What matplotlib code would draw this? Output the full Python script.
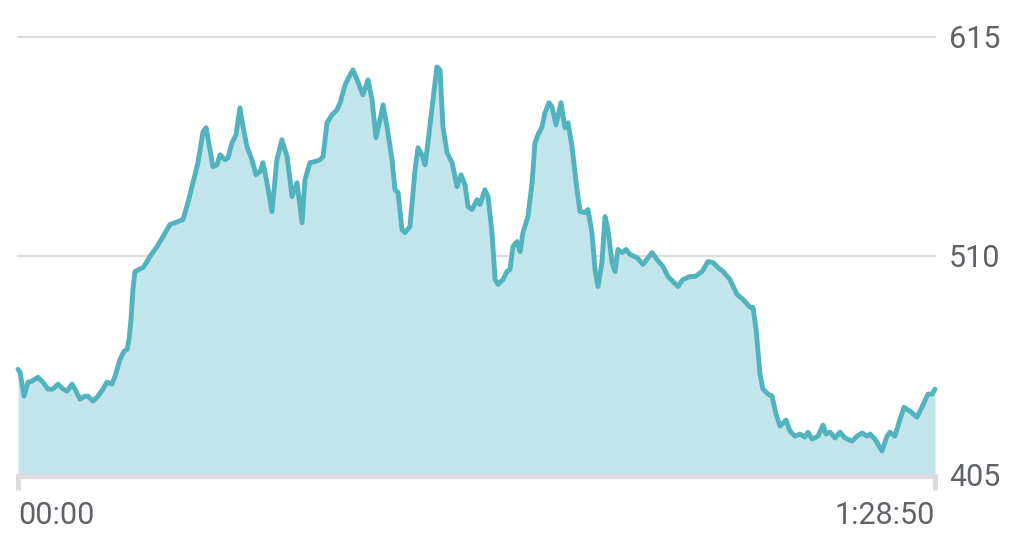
import matplotlib
matplotlib.use("Agg")
import matplotlib.pyplot as plt
import numpy as np

# elapsed time (seconds) and power-like value
time_s = [0, 12, 35, 58, 81, 116, 145, 174, 203, 232, 262, 285, 314, 331, 360, 389, 407, 436, 465, 494,
          517, 546, 564, 593, 616, 634, 645, 657, 668, 680, 703, 727, 750, 767, 808, 843, 883, 930, 959, 988,
          1017, 1046, 1075, 1093, 1104, 1133, 1157, 1174, 1203, 1221, 1244, 1267, 1290, 1308, 1331, 1360, 1383, 1407, 1424, 1447,
          1476, 1505, 1534, 1564, 1593, 1622, 1651, 1668, 1697, 1726, 1755, 1773, 1796, 1825, 1854, 1872, 1901, 1930, 1947, 1976,
          2005, 2034, 2058, 2081, 2104, 2122, 2145, 2174, 2191, 2209, 2232, 2249, 2278, 2308, 2325, 2348, 2366, 2383, 2412, 2435,
          2453, 2470, 2494, 2523, 2552, 2575, 2598, 2616, 2639, 2668, 2685, 2714, 2732, 2755, 2773, 2790, 2819, 2842, 2860, 2877,
          2900, 2918, 2935, 2964, 2988, 3005, 3022, 3046, 3063, 3086, 3104, 3127, 3156, 3179, 3197, 3220, 3249, 3267, 3296, 3313,
          3336, 3354, 3371, 3394, 3412, 3429, 3453, 3470, 3487, 3511, 3534, 3557, 3598, 3633, 3685, 3714, 3749, 3778, 3807, 3836,
          3865, 3906, 3935, 3976, 4011, 4040, 4069, 4098, 4138, 4179, 4214, 4255, 4272, 4290, 4313, 4330, 4359, 4383, 4406, 4429,
          4464, 4487, 4516, 4545, 4574, 4592, 4615, 4650, 4679, 4696, 4720, 4749, 4778, 4807, 4848, 4877, 4906, 4935, 4952, 4981,
          5022, 5051, 5068, 5097, 5127, 5150, 5185, 5225, 5254, 5289, 5313, 5330]
values = [455.3, 453.9, 442.4, 449.1, 449.6, 451.5, 449.1, 445.8, 445.8, 448.2, 445.8, 444.8, 448.2, 445.8, 441.0, 442.4, 442.4, 440.0, 442.4, 445.8,
          449.1, 448.2, 452.0, 460.1, 464.0, 464.9, 469.7, 479.3, 493.7, 502.3, 503.3, 504.2, 507.1, 509.5, 514.3, 519.1, 524.9, 526.3, 527.3, 535.4,
          545.0, 554.6, 569.4, 571.4, 566.6, 552.7, 553.6, 558.4, 556.0, 557.0, 564.2, 568.0, 581.0, 571.8, 562.3, 556.0, 548.8, 550.3, 554.6, 545.0,
          531.1, 556.0, 565.6, 557.5, 538.3, 545.0, 525.8, 546.4, 554.6, 555.1, 556.0, 557.5, 573.8, 577.6, 580.0, 583.4, 592.0, 596.8, 599.2, 593.4,
          587.2, 594.4, 584.8, 566.6, 575.2, 582.4, 571.8, 556.0, 541.6, 540.2, 522.5, 521.0, 523.9, 551.2, 561.8, 558.4, 553.6, 564.2, 584.8, 600.6,
          599.2, 571.8, 559.4, 554.6, 543.1, 548.8, 544.0, 533.5, 532.1, 536.8, 534.5, 541.6, 538.3, 521.0, 498.5, 496.1, 498.5, 502.3, 503.3, 514.3,
          516.7, 511.9, 521.0, 528.7, 545.0, 564.2, 568.0, 571.8, 578.6, 583.4, 581.4, 572.8, 583.4, 571.4, 573.8, 562.3, 541.6, 531.1, 530.6, 532.1,
          521.0, 503.3, 495.1, 506.6, 528.7, 522.5, 506.6, 502.3, 512.9, 511.4, 512.9, 510.5, 509.0, 505.7, 511.4, 508.1, 504.7, 499.9, 497.5, 495.1,
          498.5, 499.9, 499.9, 502.3, 507.1, 506.6, 504.2, 502.3, 498.5, 491.3, 488.9, 485.1, 485.1, 474.5, 452.9, 445.8, 443.4, 442.4, 433.8, 428.0,
          430.9, 425.6, 423.2, 424.2, 422.7, 425.1, 421.8, 423.2, 428.5, 424.2, 425.1, 422.3, 425.1, 422.3, 420.8, 423.2, 424.7, 423.2, 424.2, 421.8,
          416.0, 423.2, 425.1, 423.2, 431.4, 437.1, 435.2, 432.3, 437.1, 443.4, 443.4, 445.8]

y_ticks = [405, 510, 615]
y_tick_labels = ["405", "510", "615"]
x_ticks = [0, 5330]
x_tick_labels = ["00:00", "1:28:50"]

LINE = "#52B3BF"
FILL = "#C1E5EA"
GRID = "#DCDCDF"
TEXT = "#5F6368"

W, H = 1023, 544
fig = plt.figure(figsize=(W / 100, H / 100), dpi=100)
ax = fig.add_axes([18 / W, (H - 474) / H, (935 - 18) / W, (474 - 37) / H])

ax.fill_between(time_s, values, 405, color=FILL, lw=0, zorder=1)
ax.plot(time_s, values, color=LINE, lw=3.5, solid_joinstyle="round", solid_capstyle="round", zorder=3, clip_on=False)

ax.set_xlim(0, 5330)
ax.set_ylim(405, 615)

for v in y_ticks[1:]:
    ax.axhline(v, color=GRID, lw=1.6, zorder=0.5, clip_on=False)

for s in ["top", "left", "right"]:
    ax.spines[s].set_visible(False)
ax.spines["bottom"].set_color(GRID)
ax.spines["bottom"].set_linewidth(3.6)
ax.spines["bottom"].set_position(("outward", 1.5))

ax.yaxis.tick_right()
ax.set_yticks(y_ticks)
ax.set_yticklabels(y_tick_labels)
ax.tick_params(axis="y", length=0, pad=10, labelsize=22, labelcolor=TEXT)

ax.set_xticks(x_ticks)
ax.set_xticklabels(x_tick_labels)
ax.tick_params(axis="x", length=10, width=3.6, color=GRID, pad=8, labelsize=22, labelcolor=TEXT, direction="out")
xl = ax.get_xticklabels()
xl[0].set_horizontalalignment("left")
xl[1].set_horizontalalignment("right")
for lab in ax.get_xticklabels() + ax.get_yticklabels():
    lab.set_fontfamily("Roboto")

fig.savefig("out.png", dpi=100)
